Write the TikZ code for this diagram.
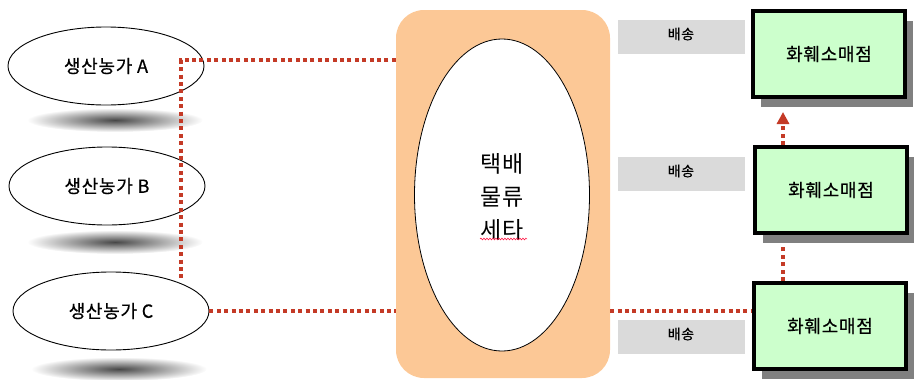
\documentclass[tikz,border=0pt]{standalone}
\usepackage{fontspec}
\setmainfont{Noto Sans CJK KR}
\newfontfamily\kfont[FakeBold=0.6, LetterSpace=4]{Noto Sans CJK KR}
\usetikzlibrary{shapes.geometric,shadows,arrows.meta,decorations.pathmorphing}
\definecolor{dred}{RGB}{196,58,38}
\definecolor{peach}{RGB}{252,200,150}
\definecolor{lgray}{RGB}{218,218,218}
\definecolor{lgreen}{RGB}{204,255,204}
\tikzset{
  farm/.style={ellipse, draw=black, line width=0.9pt, fill=white, minimum width=196pt, minimum height=78pt, inner sep=0pt, font=\kfont\fontsize{18}{20}\selectfont},
  fshadow/.style={inner color=black!72, outer color=white},
  graybox/.style={rectangle, fill=lgray, minimum width=127pt, minimum height=34pt, inner sep=0pt},
  graytext/.style={font=\kfont\fontsize{14}{16}\selectfont},
  shop/.style={rectangle, draw=black, line width=4pt, fill=lgreen, minimum width=152pt, minimum height=86pt, inner sep=0pt, font=\kfont\fontsize{18}{20}\selectfont,
    drop shadow={shadow xshift=8pt, shadow yshift=-10pt, fill=black!50, opacity=1}},
  dotline/.style={draw=dred, line width=4pt, dash pattern=on 4pt off 3.4pt},
}
\begin{document}
\begin{tikzpicture}[x=1pt,y=-1pt]
\useasboundingbox (0,0) rectangle (914,380);
% shadows of farm ellipses
\shade[fshadow] (115,120) ellipse (88 and 12);
\shade[fshadow] (115,242) ellipse (88 and 12);
\shade[fshadow] (119,369) ellipse (88 and 12);
% farms
\node[farm] (fa) at (106,66) {생산농가 A};
\node[farm] (fb) at (107,186) {생산농가 B};
\node[farm] (fc) at (111,311) {생산농가 C};
% hub
\node[rectangle, fill=peach, rounded corners=28pt, minimum width=214pt, minimum height=368pt, inner sep=0pt] (hub) at (503,194) {};
\node[ellipse, draw=black, line width=0.8pt, fill=white, minimum width=175pt, minimum height=312pt, inner sep=0pt] (core) at (502,195) {};
\node[align=center, font=\fontsize{23}{33}\selectfont] (ctext) at (502,197) {택배\\물류\\세타};
\draw[red!80!magenta, line width=0.5pt, decorate, decoration={snake, amplitude=0.9pt, segment length=3pt}] (480,239) -- (527,239);
% delivery labels
\node[graybox] (l1) at (681,37) {};
\node[graytext] at ([yshift=3pt]l1.center) {배송};
\node[graybox] (l2) at (681,174) {};
\node[graytext] at ([yshift=3pt]l2.center) {배송};
\node[graybox] (l3) at (681,337) {};
\node[graytext] at ([yshift=3pt]l3.center) {배송};
% shops
\node[shop] (s1) at (829,54) {화훼소매점};
\node[shop] (s2) at (831,190) {화훼소매점};
\node[shop] (s3) at (830,326) {화훼소매점};
% connectors
\coordinate (j) at (181,60);
\coordinate (jc) at (181,281);
\coordinate (ax) at (783,0);
\coordinate (a1) at (783,112);
\coordinate (a2) at (783,247);
\draw[dotline] (hub.west |- j) -- (j) -- (jc);
\draw[dotline] (fc.east) -- (hub.west |- fc.east);
\draw[dotline] (hub.east |- fc.east) -- (s3.west |- fc.east);
\draw[dotline] (ax |- s3.north) -- (a2);
\draw[dotline, -{Triangle[width=12pt,length=12pt]}] (ax |- s2.north) -- (a1);
\end{tikzpicture}
\end{document}
